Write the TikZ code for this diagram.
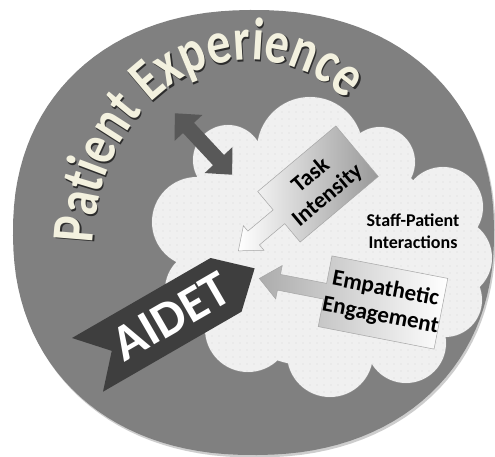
\documentclass[tikz,border=0pt]{standalone}
\usepackage{fontspec}
\setmainfont{Carlito}
\newfontfamily\carlito{Carlito}
\newfontfamily\pecond[FakeStretch=0.8]{Carlito}
\usetikzlibrary{patterns.meta,decorations.text}
\definecolor{ellgray}{RGB}{128,128,128}
\definecolor{ellshadow}{RGB}{205,205,205}
\definecolor{cloudfill}{RGB}{240,240,240}
\definecolor{cloudline}{RGB}{140,140,140}
\definecolor{dotgray}{RGB}{175,175,175}
\definecolor{dblarrow}{RGB}{88,88,88}
\definecolor{ribbon}{RGB}{62,62,62}
\definecolor{cream}{RGB}{243,241,223}
\definecolor{peshadow}{RGB}{45,45,45}
\newcommand{\pefont}{\pecond\bfseries\fontsize{60}{60}\selectfont}
\newcommand{\cloudpuffs}{(228,160) circle[radius=35] (310,150) circle[radius=53] (380,162) circle[radius=35]
  (443,207) circle[radius=40] (452,258) circle[radius=40] (445,300) circle[radius=37] (406,343) circle[radius=40]
  (330,354) circle[radius=43] (248,329) circle[radius=43] (205,290) circle[radius=40] (197,222) circle[radius=45]
  (320,255) ellipse[x radius=125, y radius=112]}
\newcommand{\discpath}{plot[domain=0.5:360.5, samples=121] ({253.5+240.5*sign(cos(\x))*pow(abs(cos(\x)),0.91)}, {232.5-222.5*sign(sin(\x))*pow(abs(sin(\x)),0.91)}) -- cycle}
\newcommand{\titlepath}{plot[domain=178:34, samples=100] ({250+157*cos(\x)}, {250-190*sin(\x)})}
\tikzset{
  calloutbox/.style={draw=gray!70, line width=0.5pt},
  boxtext/.style={font=\carlito\bfseries\fontsize{23}{26}\selectfont, align=center, inner sep=0pt},
}
\begin{document}
\begin{tikzpicture}[x=1pt,y=-1pt]
\useasboundingbox (0,0) rectangle (495,457);
\fill[white] (0,0) rectangle (495,457);
% outer disc
\fill[ellshadow, xshift=1.5pt, yshift=-2.5pt] \discpath;
\fill[ellgray] \discpath;
% cloud: outline, fill, dots
\draw[cloudline, line width=1.3pt] \cloudpuffs;
\fill[cloudfill] \cloudpuffs;
\fill[pattern={Dots[radius=0.45pt,distance=6.5pt]}, pattern color=dotgray] \cloudpuffs;
% Patient Experience arched title
\path[xshift=1.3pt, yshift=-1.5pt, decorate, decoration={text along path, text align=left, text color=peshadow,
      text={|\pefont|Patient Experience}}] \titlepath;
\path[decorate, decoration={text along path, text align=left, text color=cream,
      text={|\pefont|Patient Experience}}] \titlepath;
% double arrow
\begin{scope}[shift={(203.5,144)}, rotate=-47]
\fill[dblarrow] (-42,0) -- (-22,-19) -- (-22,-7.5) -- (22,-7.5) -- (22,-19) -- (42,0) -- (22,19) -- (22,7.5) -- (-22,7.5) -- (-22,19) -- cycle;
\end{scope}
% Task Intensity callout
\begin{scope}[shift={(318,184)}, rotate=40]
\path[calloutbox, left color=white, right color=gray!80] (51,-33) -- (-51,-33) -- (-51,-9) -- (-84,-9) -- (-84,-16) -- (-104,0) -- (-84,16) -- (-84,9) -- (-51,9) -- (-51,33) -- (51,33) -- cycle;
\node[boxtext, rotate=40] (task) at (0,2) {Task\\Intensity};
\end{scope}
% Empathetic Engagement callout
\begin{scope}[shift={(383,302.5)}, rotate=-11]
\path[calloutbox, left color=gray!65, right color=white] (59,-36) -- (-59,-36) -- (-59,-8) -- (-106,-8) -- (-106,-17) -- (-126,0) -- (-106,17) -- (-106,8) -- (-59,8) -- (-59,36) -- (59,36) -- cycle;
\node[boxtext, rotate=-11, font=\carlito\bfseries\fontsize{23}{27}\selectfont] (emp) at (0,0) {Empathetic\\Engagement};
\end{scope}
% Staff-Patient Interactions
\node[font=\carlito\bfseries\fontsize{18}{22}\selectfont, align=center, inner sep=0pt] (spi) at (413,231) {Staff-Patient\\Interactions};
% AIDET ribbon
\begin{scope}[shift={(72,338)}, rotate=30]
\fill[ribbon] (0,0) -- (160,0) -- (193,31) -- (160,62) -- (0,62) -- (28,31) -- cycle;
\node[font=\carlito\bfseries\fontsize{51}{51}\selectfont, text=white, rotate=30, inner sep=0pt] (aidet) at (97,31) {AIDET};
\end{scope}
\end{tikzpicture}
\end{document}
